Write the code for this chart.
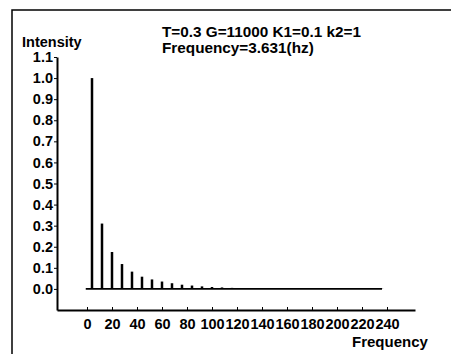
<!DOCTYPE html>
<html>
<head>
<meta charset="utf-8">
<script src="https://cdn.jsdelivr.net/npm/d3@7"></script>
<style>
  body { margin: 0; background: #fff; }
  svg { display: block; font-family: "Liberation Sans", Arial, sans-serif; font-weight: bold; }
  .axis text { font-size: 14.5px; font-weight: bold; fill: #000; font-family: "Liberation Sans", Arial, sans-serif; }
  .axis path, .axis line { stroke: #000; }
</style>
</head>
<body>
<div id="chart"></div>
<script>
// Data
const frequencies = [4, 12, 20, 28, 36, 44, 52, 60, 68, 76, 84, 92, 100, 108, 116,
  124, 132, 140, 148, 156, 164, 172, 180, 188, 196, 204, 212, 220, 228, 236];
const intensities = [1.0, 0.31, 0.175, 0.118, 0.082, 0.058, 0.045, 0.035, 0.027, 0.02,
  0.016, 0.012, 0.009, 0.007, 0.005, 0.004, 0.003, 0.003, 0.002, 0.002,
  0.002, 0.002, 0.001, 0.001, 0.001, 0.001, 0.001, 0.001, 0.001, 0.001];
const xTicks = [0, 20, 40, 60, 80, 100, 120, 140, 160, 180, 200, 220, 240];
const yTicks = [0, 0.1, 0.2, 0.3, 0.4, 0.5, 0.6, 0.7, 0.8, 0.9, 1.0, 1.1];
const titleLines = ["T=0.3 G=11000 K1=0.1 k2=1", "Frequency=3.631(hz)"];
const baselineRange = [-1, 236];

const spectrum = frequencies.map((f, i) => ({ freq: f, value: intensities[i] }));

// Set up dimensions
let width = 451;
let height = 354;
let margin = { top: 57, right: 36, bottom: 44, left: 57 };

// Set up scales
let xScale = d3
  .scaleLinear()
  .domain([-24, 262.4])
  .range([margin.left, width - margin.right]);

let yScale = d3
  .scaleLinear()
  .domain([-0.1, 1.1])
  .range([height - margin.bottom, margin.top]);

const svg = d3
  .select("#chart")
  .append("svg")
  .attr("width", width)
  .attr("height", height);

// Draw frame (top and left edges)
svg
  .append("path")
  .attr("d", `M12,${height}V10H${width}`)
  .attr("fill", "none")
  .attr("stroke", "#000")
  .attr("stroke-width", 1.5);

// Draw x axis
const xAxisG = svg
  .append("g")
  .attr("class", "x axis")
  .attr("transform", `translate(0,${height - margin.bottom})`)
  .call(
    d3
      .axisBottom(xScale)
      .tickValues(xTicks)
      .tickSizeInner(-3)
      .tickSizeOuter(0)
      .tickPadding(9)
      .tickFormat((d) => d)
  );
xAxisG.select(".domain").attr("stroke-width", 2);

// Draw y axis
const yAxisG = svg
  .append("g")
  .attr("class", "y axis")
  .attr("transform", `translate(${margin.left},0)`)
  .call(
    d3
      .axisLeft(yScale)
      .tickValues(yTicks)
      .tickSizeInner(3)
      .tickSizeOuter(0)
      .tickPadding(1)
      .tickFormat(d3.format(".1f"))
  );
yAxisG.select(".domain").attr("stroke-width", 2);

// Draw baseline
svg
  .append("line")
  .attr("x1", xScale(baselineRange[0]))
  .attr("x2", xScale(baselineRange[1]))
  .attr("y1", yScale(0))
  .attr("y2", yScale(0))
  .attr("stroke", "#000")
  .attr("stroke-width", 1.6);

// Draw spectral lines
svg
  .append("g")
  .selectAll("line")
  .data(spectrum)
  .join("line")
  .attr("x1", (d) => xScale(d.freq))
  .attr("x2", (d) => xScale(d.freq))
  .attr("y1", yScale(0))
  .attr("y2", (d) => yScale(d.value))
  .attr("stroke", "#000")
  .attr("stroke-width", 2.5);

// Draw axis titles
svg
  .append("text")
  .attr("x", 22)
  .attr("y", 47)
  .attr("font-size", 14.5)
  .text("Intensity");

svg
  .append("text")
  .attr("x", 352)
  .attr("y", 347)
  .attr("font-size", 15)
  .text("Frequency");

// Draw parameter text
svg
  .append("g")
  .selectAll("text")
  .data(titleLines)
  .join("text")
  .attr("x", 162)
  .attr("y", (d, i) => 37 + i * 16)
  .attr("font-size", 15.3)
  .text((d) => d);
</script>
</body>
</html>
